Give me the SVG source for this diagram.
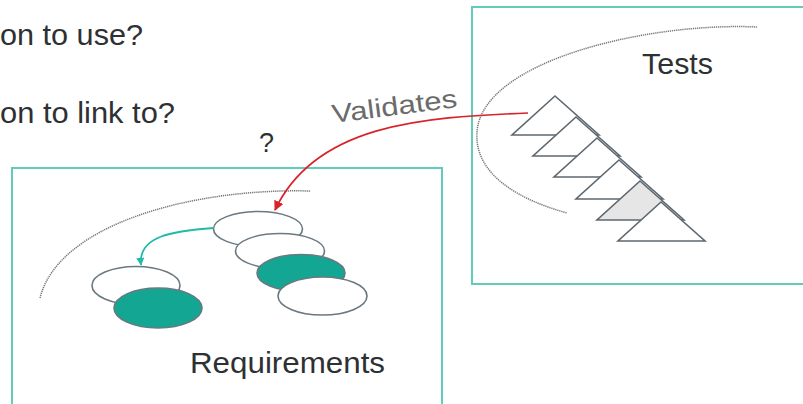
<svg xmlns="http://www.w3.org/2000/svg" width="803" height="404" viewBox="0 0 803 404">
<style>
.txt{font-family:"Liberation Sans",Arial,sans-serif;fill:#2e3133}
.box{fill:#ffffff;stroke:#62cbbb;stroke-width:2}
.dot{fill:none;stroke:#7a7a7a;stroke-width:1.5;stroke-dasharray:1.3 0.8}
.tri{fill:#ffffff;stroke:#5e6870;stroke-width:1.6;stroke-linejoin:miter}
.ell{fill:#ffffff;stroke:#6a7880;stroke-width:1.6}
.ellf{fill:#13a693;stroke:#6a7880;stroke-width:1.6}
</style>
<defs>
<marker id="redHead" viewBox="0 0 10 10" refX="9" refY="5" markerWidth="10" markerHeight="10" markerUnits="userSpaceOnUse" orient="auto">
<path d="M0,0 L10,5 L0,10 z" fill="#d8232a"/>
</marker>
<marker id="tealHead" viewBox="0 0 10 10" refX="9" refY="5" markerWidth="8" markerHeight="8" markerUnits="userSpaceOnUse" orient="auto">
<path d="M0,0 L10,5 L0,10 z" fill="#22bba6"/>
</marker>
</defs>
<rect width="803" height="404" fill="#ffffff"/>

<text class="txt" x="0" y="45" font-size="29" textLength="143" lengthAdjust="spacingAndGlyphs">on to use?</text>
<text class="txt" x="0" y="123" font-size="29" textLength="175" lengthAdjust="spacingAndGlyphs">on to link to?</text>
<text class="txt" x="259" y="152" font-size="27">?</text>

<g id="tests">
<rect class="box" x="472" y="7" width="345" height="277"/>
<path class="dot" d="M757,27 C650,22 482,60 477,132 C474,175 520,200 567,213"/>
<text class="txt" x="642" y="74" font-size="29" textLength="71" lengthAdjust="spacingAndGlyphs">Tests</text>
<path class="tri" d="M555,96 L599,135 L512,135 Z"/>
<path class="tri" d="M576,117 L620,156 L533,156 Z"/>
<path class="tri" d="M597,138 L641,177 L554,177 Z"/>
<path class="tri" d="M619,160 L663,199 L576,199 Z"/>
<path class="tri" d="M640,181 L684,220 L597,220 Z" style="fill:#e6e6e6"/>
<path class="tri" d="M661,202 L705,241 L618,241 Z"/>
</g>

<g id="requirements">
<rect class="box" x="12" y="168" width="430" height="250"/>
<path class="dot" d="M310,191 C190,188 58,225 40,298"/>
<ellipse class="ell" cx="258" cy="229" rx="44.5" ry="17.5"/>
<ellipse class="ell" cx="280" cy="251" rx="44.5" ry="17.5"/>
<ellipse class="ellf" cx="301" cy="273" rx="44" ry="18.5"/>
<ellipse class="ell" cx="322.5" cy="296" rx="44.5" ry="19"/>
<ellipse class="ell" cx="136" cy="285.5" rx="44" ry="19"/>
<ellipse class="ellf" cx="158" cy="308" rx="44" ry="20"/>
<text class="txt" x="190" y="373" font-size="29" textLength="195" lengthAdjust="spacingAndGlyphs">Requirements</text>
</g>

<g id="connectors">
<path d="M528,113 C420,117 315,125 275,210" fill="none" stroke="#d8232a" stroke-width="1.7" marker-end="url(#redHead)"/>
<path d="M214,228 C172,231 138,236 141,265" fill="none" stroke="#22bba6" stroke-width="1.8" marker-end="url(#tealHead)"/>
<text x="333" y="123" font-size="26" font-family="Liberation Sans, Arial, sans-serif" fill="#6b6b6b" transform="rotate(-7.3 333 123)" textLength="126" lengthAdjust="spacingAndGlyphs">Validates</text>
</g>
</svg>
